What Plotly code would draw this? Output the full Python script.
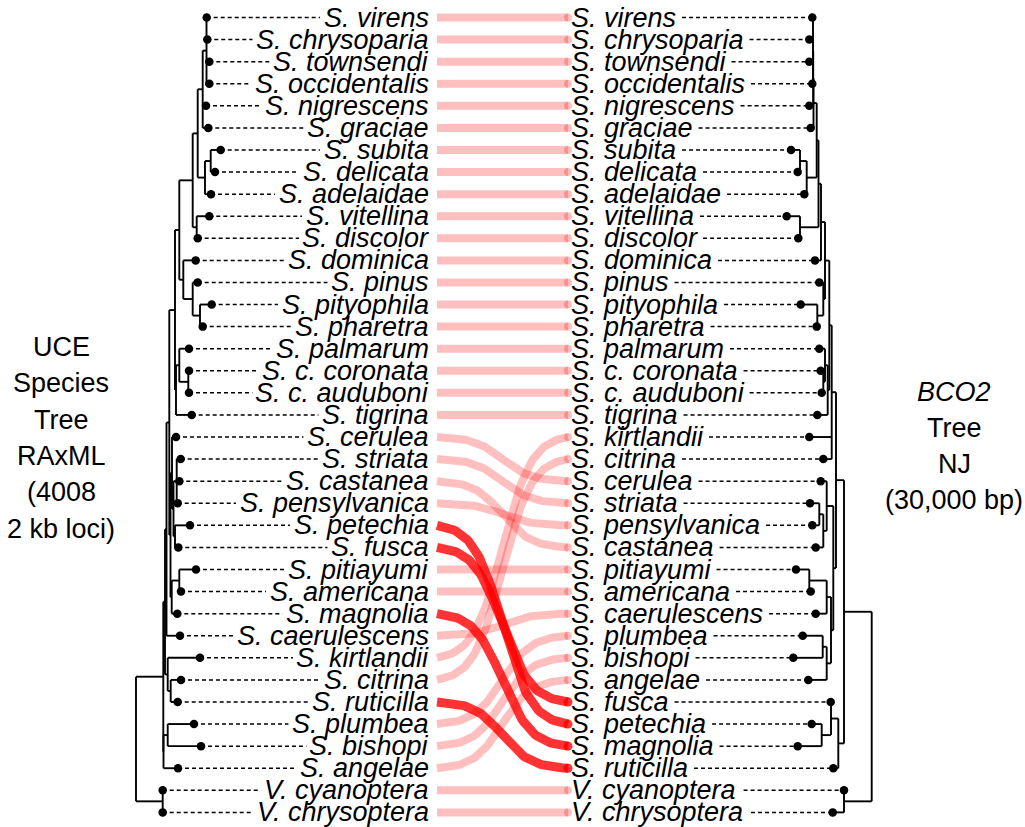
import numpy as np
import plotly.graph_objects as go

# ---------------- data ----------------
left_order = ["S. virens", "S. chrysoparia", "S. townsendi", "S. occidentalis", "S. nigrescens",
              "S. graciae", "S. subita", "S. delicata", "S. adelaidae", "S. vitellina", "S. discolor",
              "S. dominica", "S. pinus", "S. pityophila", "S. pharetra", "S. palmarum",
              "S. c. coronata", "S. c. auduboni", "S. tigrina", "S. cerulea", "S. striata",
              "S. castanea", "S. pensylvanica", "S. petechia", "S. fusca", "S. pitiayumi",
              "S. americana", "S. magnolia", "S. caerulescens", "S. kirtlandii", "S. citrina",
              "S. ruticilla", "S. plumbea", "S. bishopi", "S. angelae", "V. cyanoptera",
              "V. chrysoptera"]
left_tip_x = [206.7, 207.3, 209.3, 209.3, 206.0, 208.3, 220.7, 215.0, 211.0, 209.3, 197.7,
              195.7, 197.7, 211.7, 202.7, 189.0, 189.0, 189.0, 191.7, 176.0, 180.7,
              179.3, 177.7, 190.0, 178.3, 196.0, 181.0, 177.3, 180.0, 200.0, 181.0,
              177.7, 194.0, 201.0, 178.0, 162.7, 162.7]

right_order = ["S. virens", "S. chrysoparia", "S. townsendi", "S. occidentalis", "S. nigrescens",
               "S. graciae", "S. subita", "S. delicata", "S. adelaidae", "S. vitellina", "S. discolor",
               "S. dominica", "S. pinus", "S. pityophila", "S. pharetra", "S. palmarum",
               "S. c. coronata", "S. c. auduboni", "S. tigrina", "S. kirtlandii", "S. citrina",
               "S. cerulea", "S. striata", "S. pensylvanica", "S. castanea", "S. pitiayumi",
               "S. americana", "S. caerulescens", "S. plumbea", "S. bishopi", "S. angelae",
               "S. fusca", "S. petechia", "S. magnolia", "S. ruticilla", "V. cyanoptera",
               "V. chrysoptera"]
right_tip_x = [812.3, 809.3, 809.3, 812.3, 809.3, 810.7, 791.0, 797.7, 804.3, 786.7, 798.3,
               815.0, 819.3, 800.7, 816.7, 819.3, 820.7, 821.7, 817.3, 809.3, 823.3,
               820.7, 810.0, 812.3, 815.7, 796.0, 810.7, 815.7, 802.7, 793.3, 808.3,
               830.7, 811.7, 797.7, 833.3, 844.0, 832.7]

highlighted = ["S. petechia", "S. fusca", "S. magnolia", "S. ruticilla"]

# trees: [node_depth, child, child, ...]; children are taxon names or nodes
left_tree = [136.0,
    [163.3,
        [165.0,
            [166.5,
                [169.3,
                    [175.0,
                        [179.3,
                            [192.7,
                                [197.7,
                                    [202.7, [206.5, "S. virens", "S. chrysoparia", "S. townsendi", "S. occidentalis"],
                                     "S. nigrescens", "S. graciae"],
                                    [205.0, [210.7, "S. subita", "S. delicata"], "S. adelaidae"]],
                                [196.7, "S. vitellina", "S. discolor"]],
                            [183.3, "S. dominica",
                                [192.7, "S. pinus", [200.0, "S. pityophila", "S. pharetra"]]]],
                        [176.0, [179.3, "S. palmarum", [188.3, "S. c. coronata", "S. c. auduboni"]], "S. tigrina"]],
                    [170.5,
                        [172.0, "S. cerulea",
                            [173.5, [176.7, "S. striata", "S. castanea", "S. pensylvanica"],
                                    [175.0, "S. petechia", "S. fusca"]]],
                        [171.7, [179.3, "S. pitiayumi", "S. americana"], "S. magnolia"]]],
                "S. caerulescens"],
            [167.7, "S. kirtlandii", [170.7, "S. citrina", "S. ruticilla"]]],
        [163.5, [167.7, "S. plumbea", "S. bishopi"], "S. angelae"]],
    [162.7, "V. cyanoptera", "V. chrysoptera"]]

right_tree = [871.7,
    [844.0,
        [836.0,
            [831.7,
                [829.3,
                    [825.0,
                        [821.0,
                            [818.5,
                                [816.7,
                                    [813.5, [813.2, [813.0, "S. virens", "S. chrysoparia", "S. townsendi",
                                                     "S. occidentalis"], "S. nigrescens"], "S. graciae"],
                                    [806.7, [800.0, "S. subita", "S. delicata"], "S. adelaidae"]],
                                [800.0, "S. vitellina", "S. discolor"]],
                            "S. dominica"],
                        [823.3, "S. pinus", [817.3, "S. pityophila", "S. pharetra"]]],
                    [827.7, [825.0, "S. palmarum", [823.3, "S. c. coronata", "S. c. auduboni"]], "S. tigrina"]],
                "S. kirtlandii", "S. citrina"],
            [833.3,
                [826.7, "S. cerulea", [823.3, [819.3, "S. striata", "S. pensylvanica"], "S. castanea"]],
                [831.0,
                    [826.7, [809.3, "S. pitiayumi", "S. americana"], "S. caerulescens"],
                    [826.7, [822.7, "S. plumbea", "S. bishopi"], "S. angelae"]]]],
        [838.3, [831.0, "S. fusca", [821.7, "S. petechia", "S. magnolia"]], "S. ruticilla"]],
    [844.0, "V. cyanoptera", "V. chrysoptera"]]

left_caption = ["UCE", "Species", "Tree", "RAxML", "(4008", "2 kb loci)"]
right_caption = ["<i>BCO2</i>", "Tree", "NJ", "(30,000 bp)"]

# ---------------- geometry / style ----------------
W, H = 1025, 827
ROW0, ROWSTEP = 17.5, 22.08
FONT = "Liberation Sans, Arial, sans-serif"
FS = 27
LEFT_LABEL_X = 430.0
RIGHT_LABEL_X = 570.0
LINK_X0, LINK_X1 = 437.0, 568.0

ARIAL_W = {' ': 278, '.': 278, ',': 278, '(': 333, ')': 333, 'S': 667, 'V': 667,
           'a': 556, 'b': 556, 'c': 500, 'd': 556, 'e': 556, 'f': 278, 'g': 556, 'h': 556,
           'i': 222, 'j': 222, 'k': 500, 'l': 222, 'm': 833, 'n': 556, 'o': 556, 'p': 556,
           'q': 556, 'r': 333, 's': 500, 't': 278, 'u': 556, 'v': 500, 'w': 722, 'x': 500,
           'y': 500, 'z': 500}


def text_w(s, size):
    return sum(ARIAL_W.get(c, 556) for c in s) / 1000.0 * size


left_y = {n: ROW0 + i * ROWSTEP for i, n in enumerate(left_order)}
right_y = {n: ROW0 + i * ROWSTEP for i, n in enumerate(right_order)}
left_x = dict(zip(left_order, left_tip_x))
right_x = dict(zip(right_order, right_tip_x))


def tree_segments(tree, tip_x, tip_y):
    xs, ys = [], []

    def rec(node):
        if isinstance(node, str):
            return tip_x[node], tip_y[node]
        x = node[0]
        kids = [rec(c) for c in node[1:]]
        kys = [k[1] for k in kids]
        lo, hi = min(kys), max(kys)
        xs.extend([x, x, None]); ys.extend([lo, hi, None])
        for kx, ky in kids:
            xs.extend([x, kx, None]); ys.extend([ky, ky, None])
        return x, (lo + hi) / 2.0

    rec(tree)
    return xs, ys


fig = go.Figure()

# ---- connecting links ----
def sig(t, k=9.0):
    f = lambda u: 1.0 / (1.0 + np.exp(-k * (u - 0.5)))
    return (f(t) - f(0.0)) / (f(1.0) - f(0.0))


tt = np.linspace(0, 1, 80)
for group in (False, True):
    for n in left_order:
        if (n in highlighted) != group:
            continue
        yl, yr = left_y[n], right_y[n]
        col = "rgba(255,0,0,0.8)" if group else "rgba(255,0,0,0.25)"
        wid = 9 if group else 8
        fig.add_trace(go.Scatter(x=LINK_X0 + tt * (LINK_X1 - LINK_X0), y=yl + (yr - yl) * sig(tt),
                                 mode="lines", line=dict(color=col, width=wid),
                                 hoverinfo="skip"))
        fig.add_trace(go.Scatter(x=[LINK_X1], y=[yr], mode="markers",
                                 marker=dict(color=col, size=wid, line=dict(width=0)),
                                 hoverinfo="skip"))

# ---- dotted leaders ----
dx, dy = [], []
for n in left_order:
    x_end = LEFT_LABEL_X - text_w(n, FS) - 5
    dx.extend([left_x[n], x_end, None]); dy.extend([left_y[n], left_y[n], None])
for n in right_order:
    x_start = RIGHT_LABEL_X + text_w(n, FS) + 7
    dx.extend([x_start, right_x[n], None]); dy.extend([right_y[n], right_y[n], None])
fig.add_trace(go.Scatter(x=dx, y=dy, mode="lines",
                         line=dict(color="black", width=1.5, dash="4px,3px"), hoverinfo="skip"))

# ---- trees ----
for tree, tx, ty in ((left_tree, left_x, left_y), (right_tree, right_x, right_y)):
    sx, sy = tree_segments(tree, tx, ty)
    fig.add_trace(go.Scatter(x=sx, y=sy, mode="lines", line=dict(color="black", width=1.9),
                             hoverinfo="skip"))

# ---- tip dots ----
fig.add_trace(go.Scatter(x=[left_x[n] for n in left_order] + [right_x[n] for n in right_order],
                         y=[left_y[n] for n in left_order] + [right_y[n] for n in right_order],
                         mode="markers", marker=dict(color="black", size=8.5, line=dict(width=0)),
                         hoverinfo="skip"))

# ---- labels ----
ann = []
for n in left_order:
    ann.append(dict(x=LEFT_LABEL_X, y=left_y[n], text="<i>%s</i>" % n, xanchor="right",
                    yanchor="middle"))
for n in right_order:
    ann.append(dict(x=RIGHT_LABEL_X, y=right_y[n], text="<i>%s</i>" % n, xanchor="left",
                    yanchor="middle"))
for i, s in enumerate(left_caption):
    ann.append(dict(x=61, y=347 + i * 36.3, text=s, xanchor="center", yanchor="middle"))
for i, s in enumerate(right_caption):
    ann.append(dict(x=954, y=392 + i * 36.0, text=s, xanchor="center", yanchor="middle"))
for a in ann:
    a.update(xref="x", yref="y", showarrow=False, borderpad=0,
             font=dict(family=FONT, size=FS, color="black"))

fig.update_layout(
    width=W, height=H, margin=dict(l=0, r=0, t=0, b=0),
    paper_bgcolor="white", plot_bgcolor="white", showlegend=False,
    xaxis=dict(range=[0, W], visible=False, fixedrange=True),
    yaxis=dict(range=[H, 0], visible=False, fixedrange=True),
    annotations=ann,
)

fig.write_html("out.html", config={"displayModeBar": False},
               post_script="document.body.style.margin='0px';document.body.style.overflow='hidden';")
